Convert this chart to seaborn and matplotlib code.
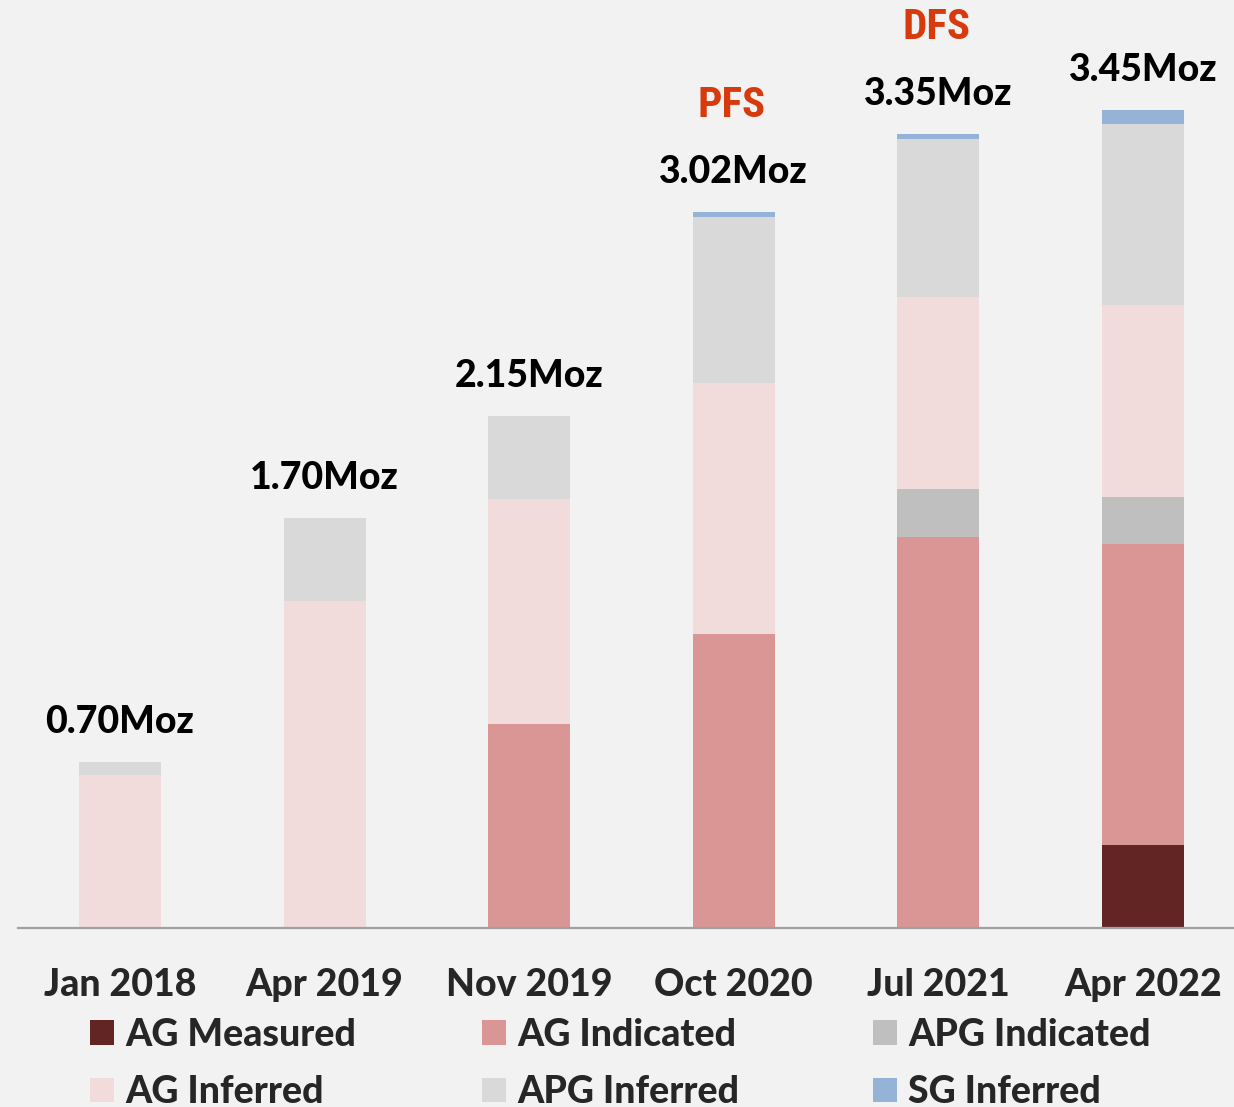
import matplotlib
matplotlib.use("Agg")
import matplotlib.pyplot as plt
from matplotlib.patches import Patch
import numpy as np
import pandas as pd
import seaborn as sns

# Resource estimates (Moz) per study
periods = ["Jan 2018", "Apr 2019", "Nov 2019", "Oct 2020", "Jul 2021", "Apr 2022"]
ag_measured = [0.00, 0.00, 0.00, 0.00, 0.00, 0.35]
ag_indicated = [0.00, 0.00, 0.86, 1.24, 1.65, 1.27]
apg_indicated = [0.00, 0.00, 0.00, 0.00, 0.20, 0.20]
ag_inferred = [0.645, 1.38, 0.95, 1.06, 0.81, 0.81]
apg_inferred = [0.055, 0.35, 0.35, 0.70, 0.67, 0.76]
sg_inferred = [0.00, 0.00, 0.00, 0.02, 0.02, 0.06]
total_labels = ["0.70Moz", "1.70Moz", "2.15Moz", "3.02Moz", "3.35Moz", "3.45Moz"]
stage_labels = {3: "PFS", 4: "DFS"}

series = [
    ("AG Measured", ag_measured, "#632523"),
    ("AG Indicated", ag_indicated, "#d99694"),
    ("APG Indicated", apg_indicated, "#bfbfbf"),
    ("AG Inferred", ag_inferred, "#f2dcdb"),
    ("APG Inferred", apg_inferred, "#d9d9d9"),
    ("SG Inferred", sg_inferred, "#95b3d7"),
]

sns.set_theme(style="white")
plt.rcParams["font.family"] = ["Lato", "DejaVu Sans"]
bg = "#f2f2f2"
W = 900  # heaviest Lato weight available

fig = plt.figure(figsize=(12.34, 11.07), dpi=100, facecolor=bg)
ax = fig.add_axes([18 / 1234, 179 / 1107, 1 - 18 / 1234, 928 / 1107])
ax.set_facecolor(bg)

bottom = np.zeros(len(periods))
for name, vals, col in series:
    df = pd.DataFrame({"period": periods, "value": vals})
    sns.barplot(data=df, x="period", y="value", order=periods, color=col,
                width=0.4, bottom=bottom.copy(), linewidth=0, saturation=1,
                errorbar=None, ax=ax)
    bottom += np.array(vals)

totals = bottom
for i, lab in enumerate(total_labels):
    ax.text(i, totals[i] + 0.17, lab, ha="center", va="center",
            fontsize=27, fontweight=W, color="black")
for i, lab in stage_labels.items():
    ax.text(i - 0.01, totals[i] + 0.45, lab, ha="center", va="center",
            fontsize=31, fontweight="bold", color="#d73b0d",
            family=["Liberation Sans Narrow", "Roboto Condensed", "Roboto", "DejaVu Sans"])

ax.set_xlim(-0.4985, 5.445)
ax.set_ylim(0, 3.915)
ax.set_xlabel("")
ax.set_ylabel("")
ax.set_yticks([])
for s in ["top", "left", "right"]:
    ax.spines[s].set_visible(False)
ax.spines["bottom"].set_color("#a0a0a0")
ax.spines["bottom"].set_linewidth(1.6)
ax.tick_params(axis="x", length=0, pad=29, labelsize=27)
for t in ax.get_xticklabels():
    t.set_fontweight(W)

# Legend: three columns of two rows, placed individually
handles = [Patch(facecolor=c, edgecolor="none", label=n) for n, _, c in series]
columns = [(handles[0], handles[3]), (handles[1], handles[4]), (handles[2], handles[5])]
col_x = [90 / 1234, 482 / 1234, 873 / 1234]
for (h1, h2), x in zip(columns, col_x):
    leg = fig.legend(handles=[h1, h2], loc="upper left", bbox_to_anchor=(x, 1 - 1018 / 1107),
                     frameon=False, ncol=1, fontsize=27, handlelength=0.64,
                     handleheight=0.64, handletextpad=0.3, labelspacing=0.62,
                     borderpad=0, borderaxespad=0)
    for t in leg.get_texts():
        t.set_fontweight(W)

fig.savefig("out.png", dpi=100, facecolor=bg)
